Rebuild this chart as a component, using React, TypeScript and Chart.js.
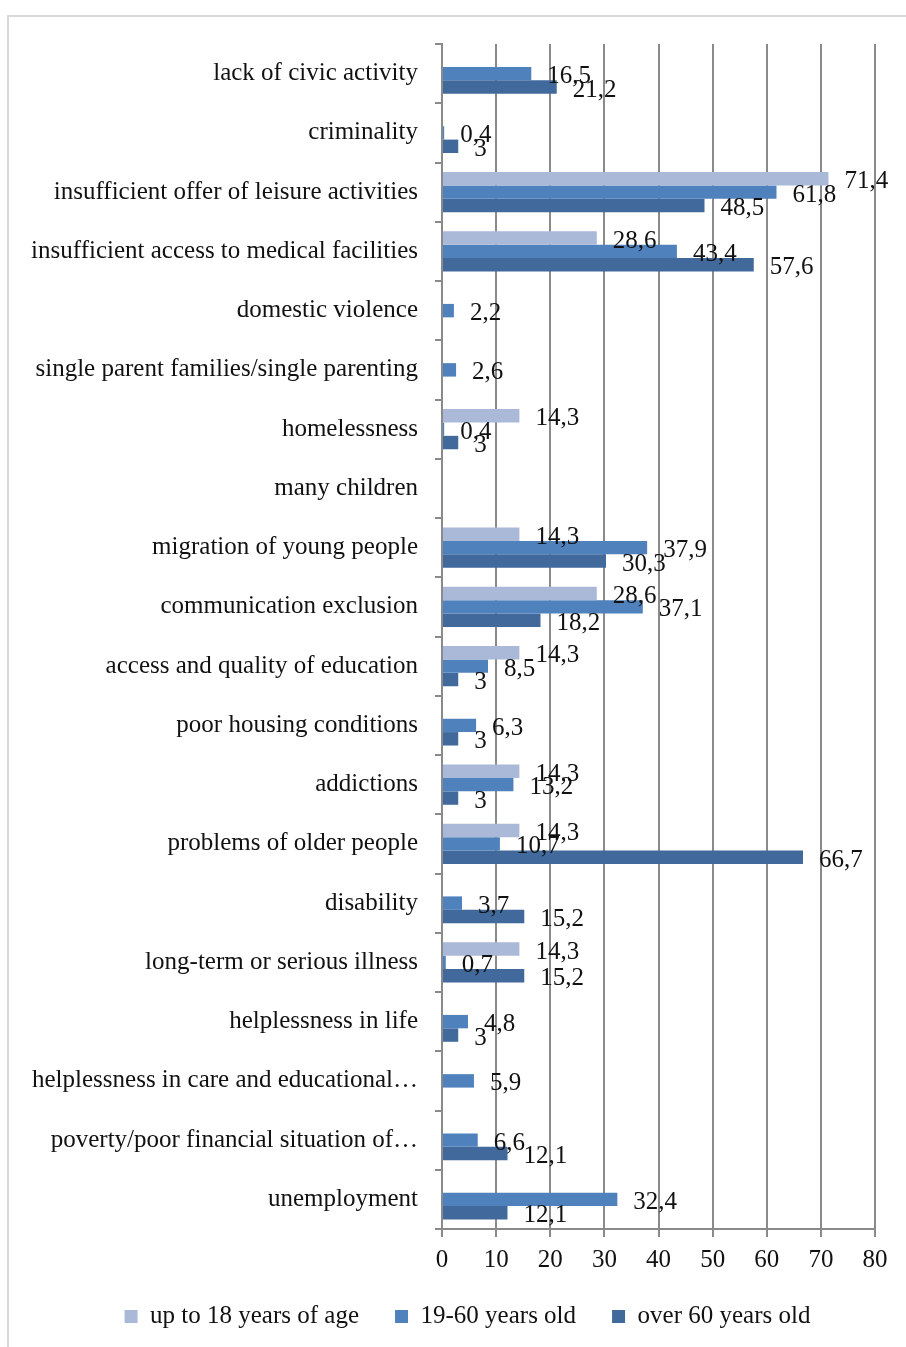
import { useEffect, useRef } from "react";
import { Chart, registerables } from "chart.js";

Chart.register(...registerables);

const categories = [
  "lack of civic activity",
  "criminality",
  "insufficient offer of leisure activities",
  "insufficient access to medical facilities",
  "domestic violence",
  "single parent families/single parenting",
  "homelessness",
  "many children",
  "migration of young people",
  "communication exclusion",
  "access and quality of education",
  "poor housing conditions",
  "addictions",
  "problems of older people",
  "disability",
  "long-term or serious illness",
  "helplessness in life",
  "helplessness in care and educational…",
  "poverty/poor financial situation of…",
  "unemployment",
];

const seriesNames = ["up to 18 years of age", "19-60 years old", "over 60 years old"];

const upTo18 = [null, null, 71.4, 28.6, null, null, 14.3, null, 14.3, 28.6, 14.3, null, 14.3, 14.3, null, 14.3, null, null, null, null];
const age19to60 = [16.5, 0.4, 61.8, 43.4, 2.2, 2.6, 0.4, null, 37.9, 37.1, 8.5, 6.3, 13.2, 10.7, 3.7, 0.7, 4.8, 5.9, 6.6, 32.4];
const over60 = [21.2, 3, 48.5, 57.6, null, null, 3, null, 30.3, 18.2, 3, 3, 3, 66.7, 15.2, 15.2, 3, null, 12.1, 12.1];

const xTicks = [0, 10, 20, 30, 40, 50, 60, 70, 80];

const colors = ["#aab9d8", "#4f81bd", "#41699b"];
const FONT = "'Liberation Serif', 'Times New Roman', serif";
const FONT_SIZE = 25;
const GRID = "#8a8a8a";

// white page with a light grey frame around the chart
const frame = {
  id: "frame",
  beforeDraw(chart: any) {
    const { ctx, width, height } = chart;
    ctx.save();
    ctx.fillStyle = "#ffffff";
    ctx.fillRect(0, 0, width, height);
    ctx.strokeStyle = "#d9d9d9";
    ctx.lineWidth = 2;
    ctx.strokeRect(8, 16, width, height);
    ctx.restore();
  },
};

// legend row centred under the plot rather than the whole canvas
const legendShift = {
  id: "legendShift",
  afterLayout(chart: any) {
    const lg = chart.legend;
    if (lg) lg.left += 60;
  },
};

// value written just past the end of each bar, decimal comma
const valueLabels = {
  id: "valueLabels",
  afterDatasetsDraw(chart: any) {
    const { ctx } = chart;
    ctx.save();
    ctx.font = `${FONT_SIZE}px ${FONT}`;
    ctx.fillStyle = "#111111";
    ctx.textAlign = "left";
    ctx.textBaseline = "middle";
    chart.data.datasets.forEach((ds: any, di: number) => {
      const meta = chart.getDatasetMeta(di);
      meta.data.forEach((el: any, i: number) => {
        const v = ds.data[i];
        if (v === null || v === undefined) return;
        ctx.fillText(String(v).replace(".", ","), el.x + 16, el.y + 3);
      });
    });
    ctx.restore();
  },
};

export default function App() {
  const ref = useRef<HTMLCanvasElement | null>(null);

  useEffect(() => {
    if (!ref.current) return;
    const chart = new Chart(ref.current, {
      type: "bar",
      data: {
        labels: categories,
        datasets: [upTo18, age19to60, over60].map((d, i) => ({
          label: seriesNames[i],
          data: d,
          backgroundColor: colors[i],
          borderWidth: 0,
          barPercentage: 1,
          categoryPercentage: 0.68,
        })),
      },
      options: {
        indexAxis: "y",
        responsive: false,
        animation: false,
        layout: { padding: { top: 44, right: 31, left: 0, bottom: 8 } },
        scales: {
          x: {
            min: 0,
            max: 80,
            afterBuildTicks(scale: any) {
              scale.ticks = xTicks.map((v) => ({ value: v }));
            },
            afterFit(scale: any) {
              scale.height = 39;
            },
            ticks: { font: { family: FONT, size: FONT_SIZE }, color: "#111111", padding: 8 },
            grid: { color: GRID, lineWidth: 2, tickLength: 8 },
            border: { color: GRID, width: 2 },
          },
          y: {
            afterFit(scale: any) {
              scale.width = 442;
            },
            ticks: { font: { family: FONT, size: FONT_SIZE }, color: "#111111", padding: 17, autoSkip: false },
            grid: { drawOnChartArea: false, offset: true, color: GRID, lineWidth: 2, tickLength: 7 },
            border: { color: GRID, width: 2 },
          },
        },
        plugins: {
          legend: {
            position: "bottom",
            labels: {
              boxWidth: 13,
              boxHeight: 13,
              padding: 36,
              color: "#111111",
              font: { family: FONT, size: FONT_SIZE },
            },
          },
          tooltip: { enabled: false },
        },
      },
      plugins: [frame, legendShift, valueLabels],
    });
    return () => chart.destroy();
  }, []);

  return (
    <div style={{ position: "absolute", left: 0, top: 0, width: 906, height: 1347 }}>
      <canvas ref={ref} width={906} height={1347} />
    </div>
  );
}
